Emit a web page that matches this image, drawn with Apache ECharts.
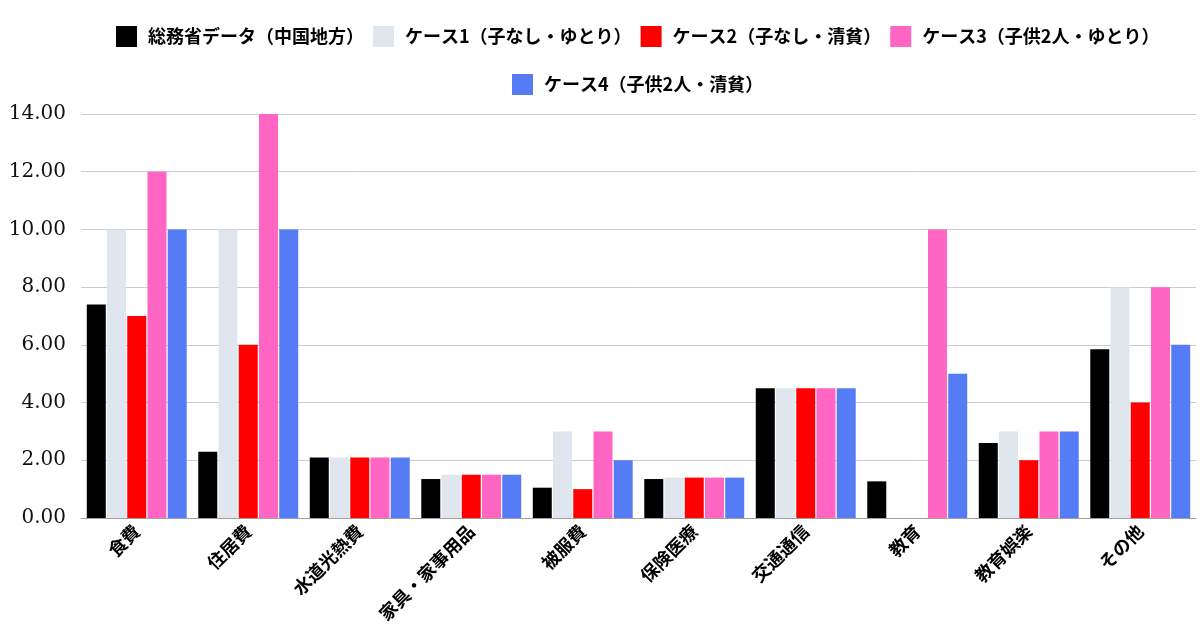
<!DOCTYPE html>
<html><head><meta charset="utf-8">
<script src="https://cdn.jsdelivr.net/npm/echarts@6/dist/echarts.min.js"></script>
<style>html,body{margin:0;padding:0;background:#fff}#c{width:1200px;height:630px}</style>
</head><body><div id="c"></div>
<script>
const categories = ['食費','住居費','水道光熱費','家具・家事用品','被服費','保険医療','交通通信','教育','教育娯楽','その他'];
const seriesNames = ['総務省データ（中国地方）','ケース1（子なし・ゆとり）','ケース2（子なし・清貧）','ケース3（子供2人・ゆとり）','ケース4（子供2人・清貧）'];
const soumusho = [7.4, 2.3, 2.1, 1.35, 1.05, 1.35, 4.5, 1.27, 2.6, 5.85];
const case1 = [10, 10, 2.1, 1.5, 3, 1.4, 4.5, 0, 3, 8];
const case2 = [7, 6, 2.1, 1.5, 1, 1.4, 4.5, 0, 2, 4];
const case3 = [12, 14, 2.1, 1.5, 3, 1.4, 4.5, 10, 3, 8];
const case4 = [10, 10, 2.1, 1.5, 2, 1.4, 4.5, 5, 3, 6];
const yTicks = [0, 2, 4, 6, 8, 10, 12, 14];

const colors = ['#000000','#dfe6ee','#ff0000','#ff66c4','#557bf5'];
const values = [soumusho, case1, case2, case3, case4];

const legendText = {fontFamily:'Noto Sans CJK JP', fontWeight:'bold', fontSize:18, color:'#000', padding:[0,0,0,6]};
const chart = echarts.init(document.getElementById('c'), null, {renderer:'canvas'});

// compute legend row widths so rows are centred around x≈633
const ctx = document.createElement('canvas').getContext('2d');
ctx.font = 'bold 18px "Noto Sans CJK JP"';
const ITEM_W = 21, GAP = 9;
function rowWidth(names){
  let w = 0;
  names.forEach((n,i)=>{ w += ITEM_W + 5 + 6 + ctx.measureText(n).width; if(i) w += GAP; });
  return w;
}
const row1 = seriesNames.slice(0,4), row2 = seriesNames.slice(4);
const cx = 633;

chart.setOption({
  animation:false,
  backgroundColor:'#fff',
  color: colors,
  legend:[
    {data: row1, top:21, left: Math.round(cx - rowWidth(row1)/2), itemWidth:ITEM_W, itemHeight:21, itemGap:GAP, icon:'rect', textStyle:legendText},
    {data: row2, top:69, left: Math.round(cx - rowWidth(row2)/2), itemWidth:ITEM_W, itemHeight:21, itemGap:GAP, icon:'rect', textStyle:legendText}
  ],
  grid:{left:81, right:4, top:114, bottom:112, containLabel:false, outerBoundsMode:'none'},
  xAxis:{
    type:'category', data:categories,
    axisLine:{lineStyle:{color:'#9e9e9e', width:1}},
    axisTick:{show:false},
    axisLabel:{rotate:45, interval:0, margin:10, fontFamily:'Noto Sans CJK JP', fontWeight:'bold', fontSize:18, color:'#000'}
  },
  yAxis:{
    type:'value', min:yTicks[0], max:yTicks[yTicks.length-1], interval:2,
    axisLine:{show:false}, axisTick:{show:false},
    splitLine:{lineStyle:{color:'#cccccc', width:1}},
    axisLabel:{margin:15, fontFamily:'DejaVu Serif', fontSize:20, color:'#111', formatter:v=>v.toFixed(2)}
  },
  series: seriesNames.map((n,i)=>({
    name:n, type:'bar', data:values[i], barWidth:19, barGap:'6.5%',
    itemStyle:{color:colors[i]}
  }))
});
</script></body></html>
